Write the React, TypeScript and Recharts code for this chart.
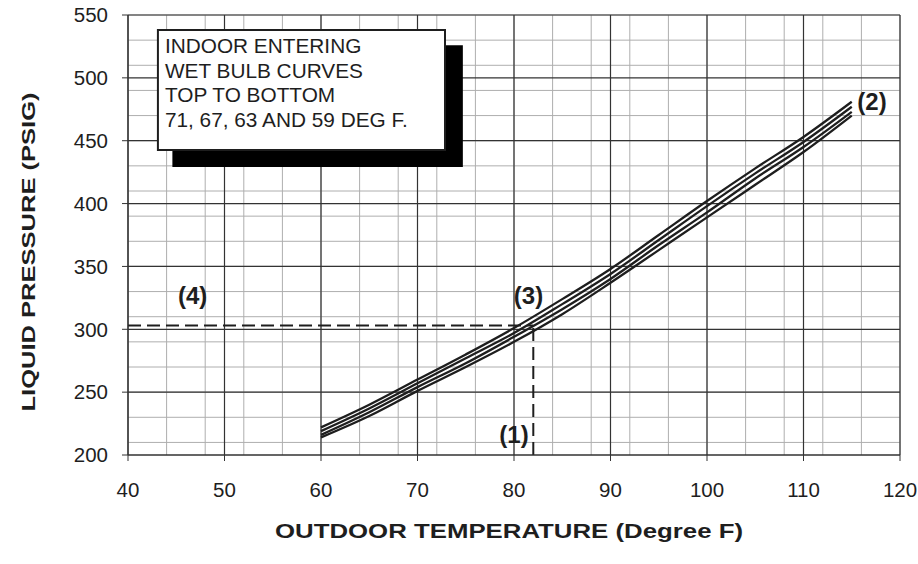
import React from 'react';
import {
  LineChart,
  Line,
  XAxis,
  YAxis,
  CartesianGrid,
  ReferenceLine,
  ReferenceArea,
  ReferenceDot,
  Label,
} from 'recharts';

// outdoor temperature (deg F)
const temps = [60, 65, 70, 75, 80, 85, 90, 95, 100, 105, 110, 115];
// liquid pressure (psig) for each indoor entering wet bulb
const wb71 = [222, 240, 260, 280, 301, 324, 348, 375, 402, 428, 453, 481];
const wb67 = [219, 237, 257, 277, 297, 320, 344, 371, 398, 424, 449, 477];
const wb63 = [216, 234, 254, 273, 294, 316, 340, 367, 393, 420, 445, 473];
const wb59 = [214, 231, 251, 270, 290, 312, 337, 363, 389, 415, 441, 470];

const xTicks = [40, 50, 60, 70, 80, 90, 100, 110, 120];
const yTicks = [200, 250, 300, 350, 400, 450, 500, 550];
const xMinor = Array.from({ length: 41 }, (_, i) => 40 + i * 2);
const yMinor = Array.from({ length: 36 }, (_, i) => 200 + i * 10);

// example point: 82 F outdoor -> 303 psig
const exampleTemp = 82;
const examplePressure = 303;

const noteLines = [
  'INDOOR ENTERING',
  'WET BULB CURVES',
  'TOP TO BOTTOM',
  '71, 67, 63 AND 59 DEG F.',
];

const data = temps.map((t, i) => ({
  t,
  wb71: wb71[i],
  wb67: wb67[i],
  wb63: wb63[i],
  wb59: wb59[i],
}));

const font = '"Liberation Sans", Arial, Helvetica, sans-serif';
const ink = '#1e1e1e';

const tag = (text: string) => (props: any) => {
  const { viewBox } = props;
  const cx = viewBox.cx ?? viewBox.x + (viewBox.width || 0) / 2;
  const cy = viewBox.cy ?? viewBox.y + (viewBox.height || 0) / 2;
  return (
    <text
      x={cx}
      y={cy}
      textAnchor="middle"
      dominantBaseline="central"
      fontFamily={font}
      fontWeight="bold"
      fontSize={24}
      fill={ink}
    >
      {text}
    </text>
  );
};

const NoteText = (props: any) => {
  const { viewBox } = props;
  return (
    <g>
      {noteLines.map((line, i) => (
        <text
          key={line}
          x={viewBox.x + 7}
          y={viewBox.y + 23 + i * 24.7}
          fontFamily={font}
          fontSize={20.8}
          fill={ink}
        >
          {line}
        </text>
      ))}
    </g>
  );
};

export default function App() {
  return (
    <div style={{ position: 'absolute', left: 0, top: 0, background: '#fff', fontFamily: font }}>
      <LineChart
        width={918}
        height={564}
        data={data}
        margin={{ top: 15, right: 18, bottom: 0, left: 0 }}
      >
        <CartesianGrid stroke="#aeaeae" strokeWidth={1} verticalValues={xMinor} horizontalValues={yMinor} />
        <CartesianGrid stroke="#333" strokeWidth={1.2} verticalValues={xTicks} horizontalValues={yTicks} />
        <XAxis
          dataKey="t"
          type="number"
          domain={[40, 120]}
          ticks={xTicks}
          height={109}
          tickSize={6}
          tickMargin={21}
          stroke="#333"
          tick={{ fill: ink, fontSize: 20.5, fontFamily: font }}
        >
          <Label
            content={(props: any) => {
              const vb = props.viewBox;
              return (
                <text
                  x={vb.x + vb.width / 2 - 5}
                  y={vb.y + 83}
                  textAnchor="middle"
                  fontFamily={font}
                  fontWeight="bold"
                  fontSize={21}
                  textLength={468}
                  lengthAdjust="spacingAndGlyphs"
                  fill={ink}
                >
                  OUTDOOR TEMPERATURE (Degree F)
                </text>
              );
            }}
          />
        </XAxis>
        <YAxis
          type="number"
          domain={[200, 550]}
          ticks={yTicks}
          width={128}
          tickSize={6}
          tickMargin={14}
          stroke="#333"
          tick={{ fill: ink, fontSize: 20.5, fontFamily: font }}
        >
          <Label
            content={(props: any) => {
              const vb = props.viewBox;
              const cy = vb.y + vb.height / 2 + 17;
              return (
                <text
                  x={35}
                  y={cy}
                  transform={`rotate(-90 35 ${cy})`}
                  textAnchor="middle"
                  fontFamily={font}
                  fontWeight="bold"
                  fontSize={19}
                  textLength={319}
                  lengthAdjust="spacingAndGlyphs"
                  fill={ink}
                >
                  LIQUID PRESSURE (PSIG)
                </text>
              );
            }}
          />
        </YAxis>

        <ReferenceArea x1={44.6} x2={74.7} y1={429} y2={526} fill="#000" fillOpacity={1} stroke="none" />
        <ReferenceArea
          x1={43.1}
          x2={72.85}
          y1={442.6}
          y2={538}
          fill="#fff"
          fillOpacity={1}
          stroke={ink}
          strokeWidth={2}
          label={<NoteText />}
        />

        <ReferenceLine
          segment={[{ x: 40, y: examplePressure }, { x: exampleTemp, y: examplePressure }]}
          stroke={ink}
          strokeWidth={2}
          strokeDasharray="13 6"
        />
        <ReferenceLine
          segment={[{ x: exampleTemp, y: 200 }, { x: exampleTemp, y: examplePressure }]}
          stroke={ink}
          strokeWidth={2}
          strokeDasharray="13 6"
        />

        <Line type="monotone" dataKey="wb71" stroke={ink} strokeWidth={2.3} dot={false} isAnimationActive={false} />
        <Line type="monotone" dataKey="wb67" stroke={ink} strokeWidth={2.3} dot={false} isAnimationActive={false} />
        <Line type="monotone" dataKey="wb63" stroke={ink} strokeWidth={2.3} dot={false} isAnimationActive={false} />
        <Line type="monotone" dataKey="wb59" stroke={ink} strokeWidth={2.3} dot={false} isAnimationActive={false} />

        <ReferenceDot x={80} y={216} r={0} fill="none" stroke="none" label={tag('(1)')} />
        <ReferenceDot x={117.1} y={481.5} r={0} fill="none" stroke="none" label={tag('(2)')} />
        <ReferenceDot x={81.5} y={327} r={0} fill="none" stroke="none" label={tag('(3)')} />
        <ReferenceDot x={46.7} y={327} r={0} fill="none" stroke="none" label={tag('(4)')} />
      </LineChart>
    </div>
  );
}
